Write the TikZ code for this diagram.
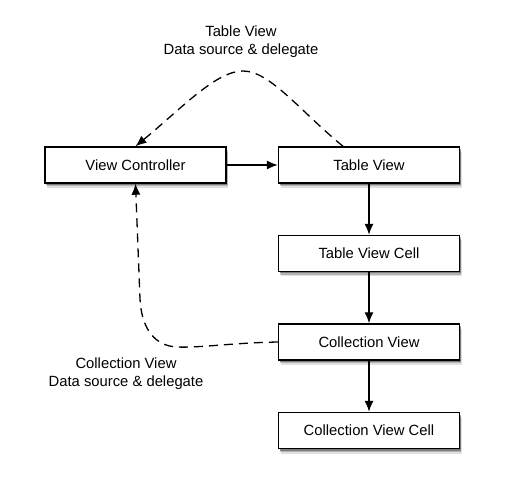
\documentclass[tikz,border=0pt]{standalone}
\usepackage{fontspec}
\setmainfont{Liberation Sans}
\usetikzlibrary{arrows.meta,shadows,calc}
\begin{document}
\begin{tikzpicture}[x=1pt,y=1pt,
  font=\fontsize{14.8}{18}\selectfont,
  box/.style={draw=black, line width=1.4pt, fill=white, minimum width=181pt, minimum height=36pt, inner sep=0pt,
    drop shadow={shadow xshift=1pt, shadow yshift=-2pt, opacity=0.3, fill=black},
    drop shadow={shadow xshift=1.5pt, shadow yshift=-3.5pt, opacity=0.2, fill=black},
    drop shadow={shadow xshift=2pt, shadow yshift=-5pt, opacity=0.12, fill=black}},
  arr/.style={line width=1.3pt, -{Latex[length=11pt,width=9pt]}},
  darr/.style={arr, dash pattern=on 9pt off 6pt},
  lbl/.style={align=center, inner sep=0pt}]
\useasboundingbox (0,0) rectangle (508,479);
\node[box] (VC) at (135.5,314) {View Controller};
\node[box] (TV) at (369,314) {Table View};
\node[box] (TVC) at (369,225.5) {Table View Cell};
\node[box] (CV) at (369,137) {Collection View};
\node[box] (CVC) at (369,48.5) {Collection View Cell};
\draw[arr] (VC.east) -- (TV.west);
\draw[arr] (TV.south) -- (TVC.north);
\draw[arr] (TVC.south) -- (CV.north);
\draw[arr] (CV.south) -- (CVC.north);
\coordinate (tvs) at ($(TV.north)+(-26pt,0)$);
\coordinate (peak) at (243,408);
\draw[darr] (tvs) .. controls (300,368) and (270,408) .. (peak) .. controls (216,408) and (182,371) .. (VC.north);
\coordinate (cb) at (177,132);
\coordinate (cv) at (140,180);
\draw[darr] (CV.west) .. controls (230,136) and (200,131) .. (cb) .. controls (155,133) and (141.5,150) .. (cv) -- (VC.south);
\node[lbl] (l1) at (241,437) {Table View\\Data source \& delegate};
\node[lbl] (l2) at (126,105) {Collection View\\Data source \& delegate};
\end{tikzpicture}
\end{document}
